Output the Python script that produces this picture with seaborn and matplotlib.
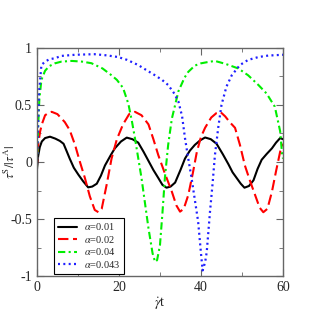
import matplotlib
matplotlib.use("Agg")
import matplotlib.pyplot as plt
import seaborn as sns
import pandas as pd
from matplotlib.ticker import MultipleLocator

# alpha = 0.01
t1 = [0, 0.3, 0.7, 1.2, 2, 3.2, 4.5, 5.6, 6.5, 7.2, 8.0, 9, 10.1, 11.3, 12.5, 13.5, 14.6, 15.6, 16.6, 18, 19,
      20.5, 21.9, 23.3, 24.7, 26, 27.2, 28.4, 29.6, 30.6, 31.6, 32.6, 33.7, 35, 36.1, 37.3, 38.5, 39.8, 41,
      42.4, 43.8, 45.3, 46.7, 47.7, 48.7, 49.7, 50.6, 51.7, 52.8, 53.8, 54.8, 56, 57.3, 58.3, 59.3, 60]
y1 = [-0.07, 0.05, 0.13, 0.18, 0.21, 0.222, 0.205, 0.185, 0.16, 0.1, 0.03, -0.05, -0.11, -0.17, -0.222, -0.215,
      -0.19, -0.12, -0.03, 0.06, 0.12, 0.18, 0.214, 0.2, 0.17, 0.09, 0.01, -0.07, -0.14, -0.2, -0.225, -0.215,
      -0.18, -0.07, 0.03, 0.1, 0.15, 0.19, 0.215, 0.2, 0.16, 0.07, -0.02, -0.09, -0.14, -0.19, -0.225, -0.21,
      -0.16, -0.06, 0.02, 0.07, 0.12, 0.17, 0.21, 0.2]

# alpha = 0.02
t2 = [0, 0.3, 0.8, 1.3, 2, 3, 3.6, 5, 6.8, 8, 9.3, 10.5, 11.7, 12.9, 14.1, 15, 15.8, 17, 18.2, 19.5, 21, 22.5,
      23.9, 25.5, 27.2, 28.4, 29.6, 31.2, 32.9, 34, 34.9, 35.8, 36.9, 38, 39, 40, 41, 42.5, 43.8, 44.7, 45.9,
      47, 48.3, 49.5, 50.7, 52, 53.2, 54.3, 55.2, 56.2, 57.3, 58.3, 59.3, 60]
y2 = [-0.05, 0.15, 0.27, 0.34, 0.41, 0.435, 0.44, 0.42, 0.35, 0.28, 0.15, 0.0, -0.14, -0.3, -0.42, -0.44, -0.41,
      -0.2, 0.03, 0.2, 0.33, 0.42, 0.44, 0.41, 0.33, 0.2, 0.06, -0.1, -0.26, -0.38, -0.435, -0.41, -0.29, -0.1,
      0.09, 0.22, 0.3, 0.39, 0.43, 0.44, 0.4, 0.35, 0.3, 0.15, -0.03, -0.17, -0.29, -0.4, -0.44, -0.41, -0.26,
      -0.08, 0.09, 0.16]

# alpha = 0.04
t3 = [0, 0.3, 0.6, 1.1, 2, 3, 4.4, 6, 8.5, 11, 13.3, 16, 18.2, 19.5, 21, 22.3, 23.2, 23.9, 25.5, 27.2, 28.2,
      28.8, 29.3, 30, 30.6, 31.2, 32, 32.9, 34.5, 36, 36.9, 38.5, 40, 41.5, 43.4, 46, 49.1, 51.5, 54, 56, 58,
      59.3, 59.8, 60]
y3 = [-0.07, 0.3, 0.55, 0.72, 0.8, 0.84, 0.865, 0.88, 0.886, 0.88, 0.866, 0.82, 0.76, 0.72, 0.65, 0.51, 0.35,
      0.21, -0.14, -0.58, -0.8, -0.875, -0.86, -0.73, -0.45, -0.14, 0.15, 0.38, 0.62, 0.74, 0.79, 0.845,
      0.865, 0.875, 0.886, 0.86, 0.82, 0.76, 0.675, 0.6, 0.485, 0.27, 0.06, 0.03]

# alpha = 0.043
t4 = [0, 0.2, 0.5, 1.1, 2, 3, 4.4, 6, 9.3, 14, 17, 19.8, 22, 24.7, 26.5, 28.8, 30.5, 32, 33.5, 34.5, 35.4,
      36.1, 36.9, 37.7, 38.5, 39.3, 40, 40.4, 41, 41.4, 42.2, 42.8, 43.4, 44.2, 45, 46.2, 47.5, 49.5, 51.5,
      54, 56.4, 60]
y4 = [-0.07, 0.2, 0.6, 0.85, 0.88, 0.9, 0.91, 0.93, 0.94, 0.945, 0.935, 0.92, 0.895, 0.85, 0.81, 0.76, 0.72,
      0.675, 0.6, 0.53, 0.4, 0.21, 0.03, -0.14, -0.33, -0.52, -0.8, -0.95, -0.88, -0.79, -0.435, -0.2, 0.06,
      0.3, 0.5, 0.66, 0.76, 0.85, 0.895, 0.92, 0.933, 0.94]

labels = [r"$\alpha$=0.01", r"$\alpha$=0.02", r"$\alpha$=0.04", r"$\alpha$=0.043"]

sns.set_style("ticks")
plt.rcParams["font.family"] = ["Liberation Serif", "DejaVu Serif"]
plt.rcParams["mathtext.fontset"] = "stix"
plt.rcParams["axes.unicode_minus"] = False

fig = plt.figure(figsize=(3.18, 3.26), dpi=100)
ax = fig.add_axes([0.116, 0.153, 0.774, 0.70])

series = [(t1, y1, "black", "-", 1.5),
          (t2, y2, "#ff0000", (0, (5, 2.2)), 1.5),
          (t3, y3, "#00ee00", (0, (3.5, 1.6, 1, 1.6)), 1.5),
          (t4, y4, "#1f1fff", (0, (0.9, 1.5)), 1.6)]
for (t, y, c, ls, lw), lab in zip(series, labels):
    df = pd.DataFrame({"t": t, "y": y})
    sns.lineplot(data=df, x="t", y="y", ax=ax, color=c, linestyle=ls, linewidth=lw, label=lab)

ax.set_xlim(0, 60)
ax.set_ylim(-1, 1)
ax.xaxis.set_major_locator(MultipleLocator(20))
ax.xaxis.set_minor_locator(MultipleLocator(10))
ax.yaxis.set_minor_locator(MultipleLocator(0.25))
ax.set_yticks([-1, -0.5, 0, 0.5, 1])
ax.set_yticklabels(["-1", "-0.5", "0", "0.5", "1"])
ax.tick_params(which="both", direction="in", top=True, right=True, labelsize=10, color="0.4")
ax.tick_params(which="major", length=5)
ax.tick_params(which="minor", length=3)
for s in ax.spines.values():
    s.set_color("0.4")
    s.set_linewidth(1.0)

ax.set_xlabel(r"$\dot{\gamma}$t", fontsize=10, labelpad=1)
ax.set_ylabel(r"$\tau^{\rm S}/|\tau^{\rm A}|$", fontsize=9)
ax.yaxis.set_label_coords(-0.075, 0.5)

leg = ax.legend(loc="upper left", bbox_to_anchor=(0.069, 0.256), borderaxespad=0, fontsize=7.5,
                handlelength=1.9, handletextpad=0.6, labelspacing=0.15, borderpad=0.35,
                fancybox=False, framealpha=1, edgecolor="black")
leg.get_frame().set_linewidth(0.8)

fig.savefig("out.png", dpi=100)
